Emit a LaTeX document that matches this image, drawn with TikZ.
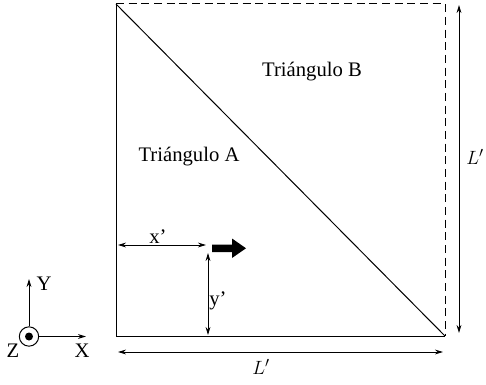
\documentclass[tikz,border=0pt]{standalone}
\usepackage{fontspec}
\setmainfont{Liberation Serif}
\usetikzlibrary{arrows.meta}

\tikzset{every picture/.style={line width=0.75pt}}
\tikzset{
  dimarrow/.style={{Stealth[length=6pt,width=3.6pt]}-{Stealth[length=6pt,width=3.6pt]}},
  axarrow/.style={-{Stealth[length=6pt,width=3.6pt]}},
  lbl/.style={inner sep=0.75pt,font=\fontsize{15.5}{18}\selectfont}
}

\begin{document}
\begin{tikzpicture}[x=0.75pt,y=0.75pt,yscale=-1,xscale=1]
\useasboundingbox (0,0) rectangle (486,385);

%Corners of the square
\coordinate (tl) at (116,4);
\coordinate (tr) at (445,4);
\coordinate (br) at (445,336);
\coordinate (bl) at (116,336);

%Straight Lines
\draw    (tl) -- (bl) -- (br) ;
\draw    (tl) -- (br) ;
%Dashed Lines
\draw  [dash pattern={on 6pt off 3.5pt}]  (tl) -- (tr) -- (br) ;

%Dimension arrows
\coordinate (rt) at (459,5);
\coordinate (rb) at (459,333);
\draw [dimarrow]   (rt) -- (rb) ;
\coordinate (bL) at (118,352);
\coordinate (bR) at (443,352);
\draw [dimarrow]   (bL) -- (bR) ;
\coordinate (xa) at (118,245);
\coordinate (xb) at (206,245);
\draw [dimarrow]   (xa) -- (xb) ;
\coordinate (ya) at (208,253);
\coordinate (yb) at (208,335);
\draw [dimarrow]   (ya) -- (yb) ;

%Thick arrow
\fill (212,244.5) -- (232,244.5) -- (232,238.5) -- (246,248.3) -- (232,258) -- (232,252) -- (212,252) -- cycle ;

%Axes
\node [draw,circle,minimum size=14.5pt,inner sep=0pt] (o) at (29,336.5) {};
\fill (o.center) circle (3pt);
\coordinate (ytip) at (29,279);
\coordinate (xtip) at (86,336.5);
\draw [axarrow]   (o.north) -- (ytip) ;
\draw [axarrow]   (o.east) -- (xtip) ;

% Text Node
\draw (312,72) node [lbl] (triB)   {Triángulo B};
% Text Node
\draw (189,157) node [lbl] (triA)   {Triángulo A};
% Text Node
\draw (475,157) node [lbl] (Lr)   {$L'$};
% Text Node
\draw (261,367) node [lbl] (Lb)   {$L'$};
% Text Node
\draw (158,237) node [lbl] (xl)   {x’};
% Text Node
\draw (218,301) node [lbl] (yl)   {y’};
% Text Node
\draw (44,284) node [lbl] (Yl)   {Y};
% Text Node
\draw (82,351) node [lbl] (Xl)   {X};
% Text Node
\draw (13,351) node [lbl] (Zl)   {Z};

\end{tikzpicture}
\end{document}
